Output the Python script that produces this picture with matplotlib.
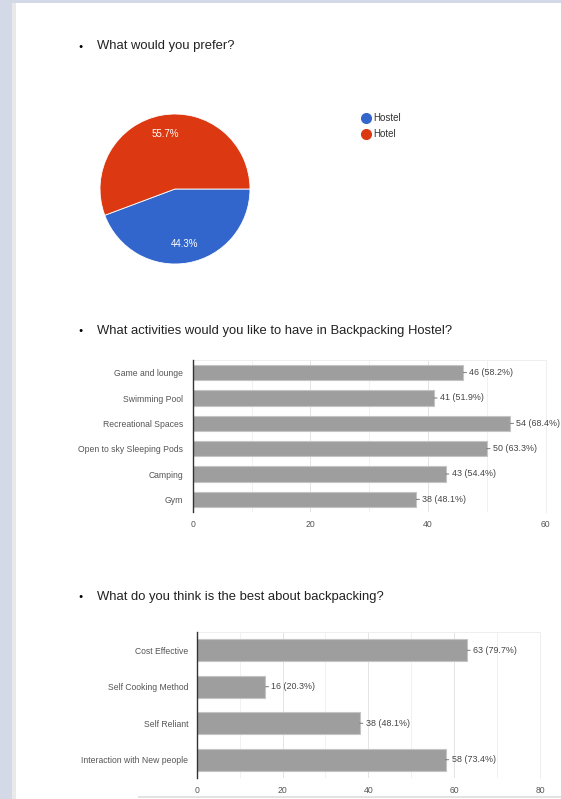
import matplotlib.pyplot as plt
from matplotlib.patches import Rectangle
from matplotlib.lines import Line2D
from matplotlib.ticker import MultipleLocator

plt.rcParams['font.family'] = ['Liberation Sans', 'DejaVu Sans']

# question 1: pie
pie_labels = ["Hostel", "Hotel"]
pie_values = [44.3, 55.7]
pie_colors = ["#3366cc", "#dc3912"]

# question 2: activities
act_labels = ["Game and lounge", "Swimming Pool", "Recreational Spaces",
              "Open to sky Sleeping Pods", "Camping", "Gym"]
act_counts = [46, 41, 54, 50, 43, 38]
act_pcts = [58.2, 51.9, 68.4, 63.3, 54.4, 48.1]

# question 3: best about backpacking
best_labels = ["Cost Effective", "Self Cooking Method", "Self Reliant",
               "Interaction with New people"]
best_counts = [63, 16, 38, 58]
best_pcts = [79.7, 20.3, 48.1, 73.4]

W, H = 561, 799
fig = plt.figure(figsize=(W / 100, H / 100), dpi=100)
fig.patch.set_facecolor("white")


def box(left, top, right, bottom):
    # pixel box -> figure fraction rect
    return [left / W, 1 - bottom / H, (right - left) / W, (bottom - top) / H]


# page background / border
bg = fig.add_axes([0, 0, 1, 1], zorder=-10)
bg.set_xlim(0, W)
bg.set_ylim(H, 0)
bg.axis("off")
bg.add_patch(Rectangle((0, 0), W, 3, color="#d3d9e6", lw=0))
bg.add_patch(Rectangle((0, 0), 12, H, color="#d3d9e6", lw=0))
bg.add_patch(Rectangle((12, 3), 4, H, color="#e9e9e9", lw=0))
bg.add_patch(Rectangle((138, 796), W, 2, color="#e3e3e3", lw=0))

title_kw = dict(fontsize=9.4, color="#222222", va="center")
for ypix, txt in [(46, "What would you prefer?"),
                  (331, "What activities would you like to have in Backpacking Hostel?"),
                  (597, "What do you think is the best about backpacking?")]:
    fig.text(80.5 / W, 1 - ypix / H, "\u25CF", fontsize=5, color="black", va="center", ha="center")
    fig.text(97 / W, 1 - ypix / H, txt, **title_kw)

# pie
ax1 = fig.add_axes(box(100, 114, 250, 264))
wedges, texts, autotexts = ax1.pie(
    pie_values, colors=pie_colors, startangle=0, counterclock=False,
    autopct="%1.1f%%", pctdistance=0.75,
    wedgeprops=dict(edgecolor="white", linewidth=0.6),
    textprops=dict(color="white", fontsize=7))
ax1.set_xlim(-1, 1)
ax1.set_ylim(-1, 1)
ax1.set_aspect("equal")

handles = [Line2D([], [], marker="o", ls="", markersize=7, color=c) for c in pie_colors]
fig.legend(handles, pie_labels, loc="upper left",
           bbox_to_anchor=(361 / W, 1 - 113 / H), frameon=False,
           fontsize=7, handletextpad=0.25, labelspacing=0.62,
           handlelength=1.0, borderaxespad=0, borderpad=0,
           labelcolor="#333333")


def hbar(rect, labels, counts, pcts, xmax, ypad):
    ax = fig.add_axes(rect)
    ax.barh(labels, counts, height=0.6, color="#9e9e9e",
            edgecolor="#c4c4c4", linewidth=0.8, zorder=3)
    ax.set_ylim(len(labels) - 0.5, -0.5)
    ax.set_xlim(0, xmax)
    ax.xaxis.set_major_locator(MultipleLocator(20))
    ax.xaxis.set_minor_locator(MultipleLocator(10))
    ax.grid(axis="x", which="major", color="#e4e4e4", lw=0.7, zorder=0)
    ax.grid(axis="x", which="minor", color="#f1f1f1", lw=0.7, zorder=0)
    ax.tick_params(axis="both", which="both", length=0, labelsize=6.2,
                   labelcolor="#555555")
    ax.tick_params(axis="x", pad=6)
    ax.tick_params(axis="y", pad=ypad)
    ax.spines["left"].set_color("#333333")
    ax.spines["left"].set_linewidth(1.0)
    ax.spines["left"].set_zorder(4)
    ax.spines["bottom"].set_visible(False)
    for s in ["top", "right"]:
        ax.spines[s].set_color("#eeeeee")
        ax.spines[s].set_linewidth(0.7)
    for i, (c, p) in enumerate(zip(counts, pcts)):
        ax.annotate(f"{c} ({p}%)", xy=(c, i), xytext=(6, 0),
                    textcoords="offset pixels", va="center", ha="left",
                    fontsize=6.4, color="#444444", annotation_clip=False,
                    arrowprops=dict(arrowstyle="-", color="#666666", lw=0.6,
                                    shrinkA=0, shrinkB=0))
    return ax


hbar(box(192.7, 360, 545.7, 512), act_labels, act_counts, act_pcts, 60, 7)
hbar(box(196.7, 632, 540, 778), best_labels, best_counts, best_pcts, 80, 6)

fig.savefig("out.png", dpi=100)
